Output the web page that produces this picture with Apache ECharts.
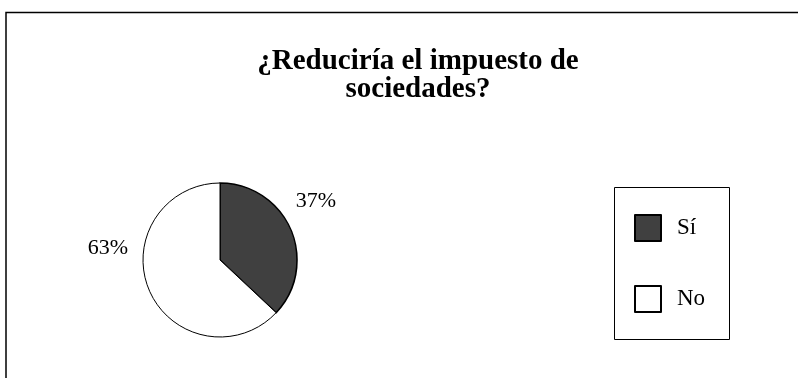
<!DOCTYPE html>
<html>
<head>
<meta charset="utf-8">
<script src="https://cdn.jsdelivr.net/npm/echarts@6/dist/echarts.min.js"></script>
<style>
  html, body { margin: 0; padding: 0; background: #fff; }
  #chart { width: 800px; height: 378px; }
</style>
</head>
<body>
<div id="chart"></div>
<script>
// Survey answers and their shares (percent)
const categories = ['Sí', 'No'];
const shares = [37, 63];
const sliceColors = ['#404040', '#ffffff'];
const titleText = '¿Reduciría el impuesto de\nsociedades?';

const chart = echarts.init(document.getElementById('chart'), null, { renderer: 'canvas' });

const serif = '"Liberation Serif", "Times New Roman", serif';
const pieCenter = [220, 260];
// label offsets from the pie centre, per slice
const labelOffsets = [[96, -59], [-112, -12]];

chart.setOption({
  animation: false,
  backgroundColor: '#ffffff',
  title: {
    text: titleText,
    left: 413,
    textAlign: 'center',
    top: 43,
    textStyle: {
      fontFamily: serif,
      fontWeight: 'bold',
      fontSize: 29,
      lineHeight: 28,
      color: '#000'
    }
  },
  legend: {
    orient: 'vertical',
    left: 629,
    top: 209,
    itemWidth: 26,
    itemHeight: 26,
    itemGap: 43,
    icon: 'rect',
    textStyle: { fontFamily: serif, fontSize: 23, lineHeight: 26, color: '#000', padding: [0, 0, 0, 11] },
    data: categories
  },
  graphic: [
    // outer frame: top and left edges
    { type: 'polyline', shape: { points: [[6, 378], [6, 12.5], [798, 12.5]] },
      style: { stroke: '#000', lineWidth: 1.5, fill: null } },
    // legend box
    { type: 'rect', shape: { x: 614.5, y: 187.5, width: 115, height: 152 },
      style: { stroke: '#000', lineWidth: 1, fill: null }, z: -1 }
  ],
  series: [{
    type: 'pie',
    center: pieCenter,
    radius: 77,
    startAngle: 90,
    clockwise: true,
    avoidLabelOverlap: false,
    label: {
      show: true,
      position: 'outside',
      formatter: '{c}%',
      fontFamily: serif,
      fontSize: 22,
      color: '#000'
    },
    labelLine: { show: false },
    labelLayout: function (params) {
      const off = labelOffsets[params.dataIndex];
      return {
        x: pieCenter[0] + off[0],
        y: pieCenter[1] + off[1],
        align: 'center',
        verticalAlign: 'middle'
      };
    },
    itemStyle: { borderColor: '#000', borderWidth: 1 },
    data: categories.map((name, i) => ({
      name: name,
      value: shares[i],
      itemStyle: { color: sliceColors[i], borderWidth: i === 0 ? 1.6 : 1 }
    }))
  }]
});
</script>
</body>
</html>
